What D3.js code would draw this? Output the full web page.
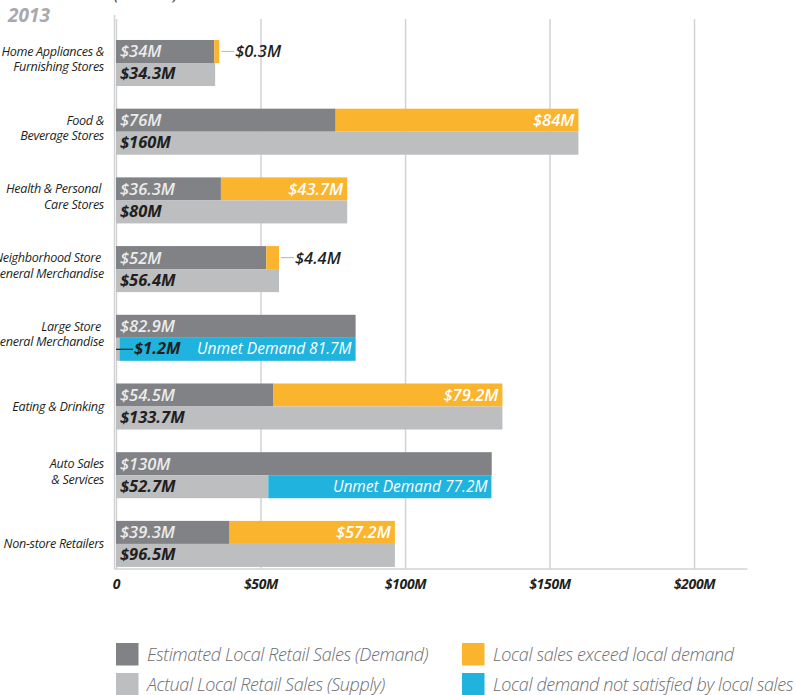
<!DOCTYPE html>
<html><head><meta charset="utf-8">
<script src="https://cdn.jsdelivr.net/npm/d3@7"></script>
<style>
body{margin:0;background:#fff;}
svg{display:block;font-family:"Open Sans",sans-serif;}
text{white-space:pre;}
</style></head><body>
<svg id="chart" width="796" height="695"></svg>
<script>
// ---------- data ----------
const categories = ["Home Appliances & Furnishing Stores","Food & Beverage Stores","Health & Personal Care Stores","Neighborhood Store General Merchandise","Large Store General Merchandise","Eating & Drinking","Auto Sales & Services","Non-store Retailers"];
const categoryLines = [["Home Appliances &","Furnishing Stores"],["Food &","Beverage Stores"],["Health & Personal ","Care Stores"],["Neighborhood Store ","General Merchandise"],["Large Store ","General Merchandise"],["Eating & Drinking"],["Auto Sales","& Services"],["Non-store Retailers"]];
const demand  = [34, 76, 36.3, 52, 82.9, 54.5, 130, 39.3];
const supply  = [34.3, 160, 80, 56.4, 1.2, 133.7, 52.7, 96.5];
const surplus = [0.3, 84, 43.7, 4.4, 0, 79.2, 0, 57.2];
const unmet   = [0, 0, 0, 0, 81.7, 0, 77.2, 0];
const xTicks = [0, 50, 100, 150, 200];
const tickLabels = ["0", "$50M", "$100M", "$150M", "$200M"];
const legendLabels = ["Estimated Local Retail Sales (Demand)","Actual Local Retail Sales (Supply)","Local sales exceed local demand","Local demand not satisfied by local sales"];
const yearLabel = "2013";

const colors = {demand:"#808285", supply:"#bcbec0", surplus:"#fbb42e", unmet:"#1fb3de", grid:"#d1d3d4", dark:"#231f20"};
const legendColors = [colors.demand, colors.supply, colors.surplus, colors.unmet];

// ---------- scales ----------
const svg = d3.select("#chart");
const x = d3.scaleLinear().domain([0, 218.5]).range([116, 747.5]);
const y = d3.scaleBand().domain(categories).range([17.3, 589.6]).paddingInner(0.33).paddingOuter(0.33);
const bh = y.bandwidth() / 2;
const baseY = 569;

// title fragment (cut off at top) and year
svg.append("text").attr("x", 114).attr("y", -0.5).attr("font-size", 15).attr("font-style","italic")
  .attr("font-weight", 600).attr("fill", "#58595b").text("(millions)");
svg.append("text").attr("x", 8).attr("y", 22).attr("font-size", 19).attr("font-style","italic")
  .attr("font-weight", 700).attr("fill", "#a7a9ac").text(yearLabel);

// grid
const grid = svg.append("g").attr("transform", `translate(0,${baseY})`)
  .call(d3.axisBottom(x).tickValues(xTicks).tickSize(-(baseY - 19)).tickFormat(""));
grid.select(".domain").remove();
grid.selectAll(".tick line").attr("stroke", colors.grid).attr("stroke-width", 1.5);
svg.append("line").attr("x1", x(0) - 1.5).attr("x2", x(0) - 1.5).attr("y1", 15).attr("y2", baseY)
  .attr("stroke", colors.grid).attr("stroke-width", 1.5);

// axis
const axis = svg.append("g").attr("transform", `translate(0,${baseY})`)
  .call(d3.axisBottom(x).tickValues(xTicks).tickSize(0).tickPadding(10).tickFormat((d, i) => tickLabels[i]));
axis.select(".domain").attr("stroke", colors.grid).attr("stroke-width", 1.5)
  .attr("d", `M${x(0) - 2},0H${x.range()[1]}`);
axis.selectAll(".tick text").attr("font-size", 14).attr("font-style", "italic").attr("font-weight", 700)
  .attr("fill", colors.dark).attr("font-family", "'Open Sans',sans-serif").attr("dy", "0.71em")
  .attr("letter-spacing", -0.3);

// rows
const rows = svg.append("g").selectAll("g").data(categories).join("g")
  .attr("transform", d => `translate(0,${y(d)})`);

// category labels
rows.each(function(d, i) {
  const g = d3.select(this);
  const lines = categoryLines[i];
  const n = lines.length;
  lines.forEach((t, j) => {
    g.append("text").attr("x", 104).attr("y", bh + 4 - (n - 1) * 11 + j * 15.5)
      .attr("text-anchor", "end").attr("font-size", 12.6).attr("font-style", "italic")
      .attr("fill", colors.dark).attr("letter-spacing", -0.3).text(t);
  });
});

const fmt = v => "$" + v + "M";
const labelStyle = sel => sel.attr("font-size", 16.5).attr("font-style", "italic").attr("font-weight", 600);

rows.each(function(d, i) {
  const g = d3.select(this);
  // demand bar
  g.append("rect").attr("x", x(0)).attr("y", 0).attr("width", x(demand[i]) - x(0)).attr("height", bh)
    .attr("fill", colors.demand);
  // surplus segment
  if (surplus[i] > 0) {
    const w = Math.max(x(surplus[i]) - x(0), 5);
    g.append("rect").attr("x", x(demand[i])).attr("y", 0).attr("width", w).attr("height", bh)
      .attr("fill", colors.surplus);
    if (surplus[i] >= 10) {
      g.append("text").attr("x", x(demand[i]) + w - 4).attr("y", 17.5).attr("text-anchor", "end")
        .attr("fill", "#fff").call(labelStyle).text(fmt(surplus[i]));
    } else {
      const ex = x(demand[i]) + w;
      g.append("line").attr("x1", ex + 2).attr("x2", ex + 15).attr("y1", bh / 2).attr("y2", bh / 2)
        .attr("stroke", colors.supply).attr("stroke-width", 1.2);
      g.append("text").attr("x", ex + 16).attr("y", 17.5).attr("fill", colors.dark)
        .call(labelStyle).text(fmt(surplus[i]));
    }
  }
  g.append("text").attr("x", x(0) + 4).attr("y", 17.5).attr("fill", "#ececec")
    .call(labelStyle).text(fmt(demand[i]));

  // supply bar
  g.append("rect").attr("x", x(0)).attr("y", bh).attr("width", x(supply[i]) - x(0)).attr("height", bh)
    .attr("fill", colors.supply);
  if (unmet[i] > 0) {
    g.append("rect").attr("x", x(supply[i])).attr("y", bh).attr("width", x(unmet[i]) - x(0)).attr("height", bh)
      .attr("fill", colors.unmet);
    g.append("text").attr("x", x(supply[i] + unmet[i]) - 4).attr("y", bh + 16.5).attr("text-anchor", "end")
      .attr("fill", "#fff").call(labelStyle).attr("font-weight", 500).attr("font-size", 15.5)
      .text("Unmet Demand " + unmet[i] + "M");
  }
  if (supply[i] >= 10) {
    g.append("text").attr("x", x(0) + 4).attr("y", bh + 16.5).attr("fill", colors.dark)
      .call(labelStyle).attr("font-weight", 700).text(fmt(supply[i]));
  } else {
    g.append("line").attr("x1", x(0)).attr("x2", x(0) + 17).attr("y1", bh * 1.5).attr("y2", bh * 1.5)
      .attr("stroke", colors.dark).attr("stroke-width", 1.2);
    g.append("text").attr("x", x(0) + 18).attr("y", bh + 16.5).attr("fill", colors.dark)
      .call(labelStyle).attr("font-weight", 700).text(fmt(supply[i]));
  }
});

// legend
const legend = svg.append("g").selectAll("g").data(legendLabels).join("g")
  .attr("transform", (d, i) => `translate(${i < 2 ? 116 : 462},${i % 2 === 0 ? 643 : 673})`);
legend.append("rect").attr("width", 22.5).attr("height", 22.5).attr("fill", (d, i) => legendColors[i]);
legend.append("text").attr("x", 31).attr("y", 17.5).attr("font-size", 18).attr("font-style", "italic")
  .attr("font-weight", 300).attr("fill", "#6d6e71").attr("letter-spacing", -0.4).text(d => d);
</script>
</body></html>
